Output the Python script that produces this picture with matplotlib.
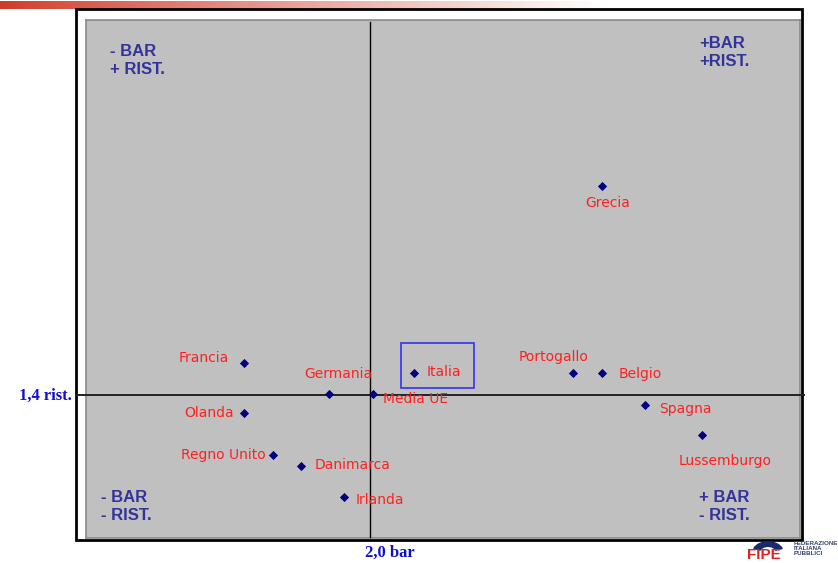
import numpy as np
import matplotlib
matplotlib.use("Agg")
import matplotlib.pyplot as plt
from matplotlib.patches import Rectangle, Wedge
from matplotlib.transforms import blended_transform_factory

# ---------------- data ----------------
countries = ["Grecia", "Francia", "Germania", "Media UE", "Italia", "Portogallo",
             "Belgio", "Olanda", "Spagna", "Lussemburgo", "Regno Unito",
             "Danimarca", "Irlanda"]
bar_values = [3.62, 1.12, 1.71, 2.02, 2.31, 3.42, 3.62, 1.12, 3.92, 4.32, 1.32, 1.52, 1.82]
rist_values = [2.097, 1.507, 1.403, 1.403, 1.473, 1.473, 1.473, 1.340, 1.367, 1.267,
               1.200, 1.163, 1.060]
ref_bar = 2.0
ref_rist = 1.4
ref_bar_label = "2,0 bar"
ref_rist_label = "1,4 rist."
quadrant_labels = ["- BAR\n+ RIST.", "+BAR\n+RIST.", "- BAR\n- RIST.", "+ BAR\n- RIST."]

# label placement (pixel offsets, alignment)
label_style = {
    "Grecia": (6, -17, "center"),
    "Francia": (-15, 5, "right"),
    "Germania": (10, 20, "center"),
    "Media UE": (10, -5, "left"),
    "Italia": (12, 1, "left"),
    "Portogallo": (15, 16, "right"),
    "Belgio": (17, -1, "left"),
    "Olanda": (-10, 0, "right"),
    "Spagna": (15, -4, "left"),
    "Lussemburgo": (23, -26, "center"),
    "Regno Unito": (-7, 0, "right"),
    "Danimarca": (13, 1, "left"),
    "Irlanda": (11, -3, "left"),
}

W, H = 838, 563
fig = plt.figure(figsize=(W / 100, H / 100), dpi=100)
fig.patch.set_facecolor("white")

def fx(px):
    return px / W

def fy(py):
    return 1 - py / H

# red gradient bar at top
gax = fig.add_axes([0, fy(9), 1, (9 - 1) / H])
gax.set_zorder(-20)
grad = np.linspace(0, 1, 400)
c0 = np.array([0.82, 0.23, 0.16])
rgb = np.zeros((1, 400, 3))
for i, t in enumerate(grad):
    f = min(1.0, t / 0.72) ** 0.9
    rgb[0, i] = c0 * (1 - f) + np.array([1, 1, 1]) * f
gax.imshow(rgb, aspect="auto", extent=[0, 1, 0, 1])
gax.axis("off")

# outer frame
frame = Rectangle((fx(76), fy(540)), fx(802) - fx(76), fy(9) - fy(540),
                  transform=fig.transFigure, facecolor="white", edgecolor="black",
                  linewidth=2, zorder=-10)
fig.patches.append(frame)

# main axes
ax = fig.add_axes([fx(86), fy(538), fx(800) - fx(86), fy(20) - fy(538)])
ax.set_zorder(2)
ax.set_facecolor("#C0C0C0")
ax.set_xlim(2 + (86 - 370) / 143, 2 + (800 - 370) / 143)
ax.set_ylim(1.4 - (538 - 395) / 300, 1.4 + (395 - 20) / 300)
ax.set_xticks([])
ax.set_yticks([])
for s in ax.spines.values():
    s.set_color("#8a8a8a")
    s.set_linewidth(1.2)

# reference lines
tr_h = blended_transform_factory(fig.transFigure, ax.transData)
ax.plot([fx(76), fx(804)], [ref_rist, ref_rist], transform=tr_h, color="#222222",
        linewidth=1.4, clip_on=False, zorder=3)
tr_v = blended_transform_factory(ax.transData, fig.transFigure)
ax.plot([ref_bar, ref_bar], [fy(537), fy(22)], transform=tr_v, color="black",
        linewidth=1.0, clip_on=False, zorder=3)

# points
ax.scatter(bar_values, rist_values, marker="D", s=22, color="#000080", zorder=5,
           linewidths=0)

for name, xv, yv in zip(countries, bar_values, rist_values):
    dx, dy, ha = label_style[name]
    ax.annotate(name, (xv, yv), xytext=(dx, dy), textcoords="offset pixels",
                ha=ha, va="center", color="#FF2020", fontsize=10,
                family="DejaVu Sans", zorder=6)

# Italia highlight box
ix = bar_values[countries.index("Italia")]
iy = rist_values[countries.index("Italia")]
ax.add_patch(Rectangle((ix - 13 / 143, iy - 15 / 300), 73 / 143, 45 / 300,
                       facecolor="none", edgecolor="#3333EE", linewidth=1.2, zorder=4))

# quadrant labels
qcol = "#333399"
qpos = [(110, 60), (699, 53), (101, 506), (699, 507)]
for txt, (px, py) in zip(quadrant_labels, qpos):
    fig.text(fx(px), fy(py), txt, ha="left", va="center", color=qcol,
             fontsize=12, fontweight="bold", family="Liberation Sans",
             linespacing=1.25, zorder=5)

# reference labels
fig.text(fx(72), fy(396), ref_rist_label, ha="right", va="center", color="#1010CC",
         fontsize=12, fontweight="bold", family="Liberation Serif")
fig.text(fx(390), fy(553), ref_bar_label, ha="center", va="center", color="#1010CC",
         fontsize=12, fontweight="bold", family="Liberation Serif")

# partial logo bottom-right
fig.text(fx(794), fy(541), "FEDERAZIONE\nITALIANA\nPUBBLICI", ha="left",
         va="top", color="#334477", fontsize=4.5, fontweight="bold",
         family="Liberation Sans", linespacing=1.0)
fig.text(fx(747), fy(562), "FIPE", ha="left", va="bottom", color="#DD2222",
         fontsize=11, fontweight="bold", family="Liberation Sans")
fig.patches.append(Wedge((fx(768), fy(552)), 0.018, 20, 160,
                   width=0.008, transform=fig.transFigure, color="#1a2a6a"))

fig.savefig("out.png", dpi=100)
